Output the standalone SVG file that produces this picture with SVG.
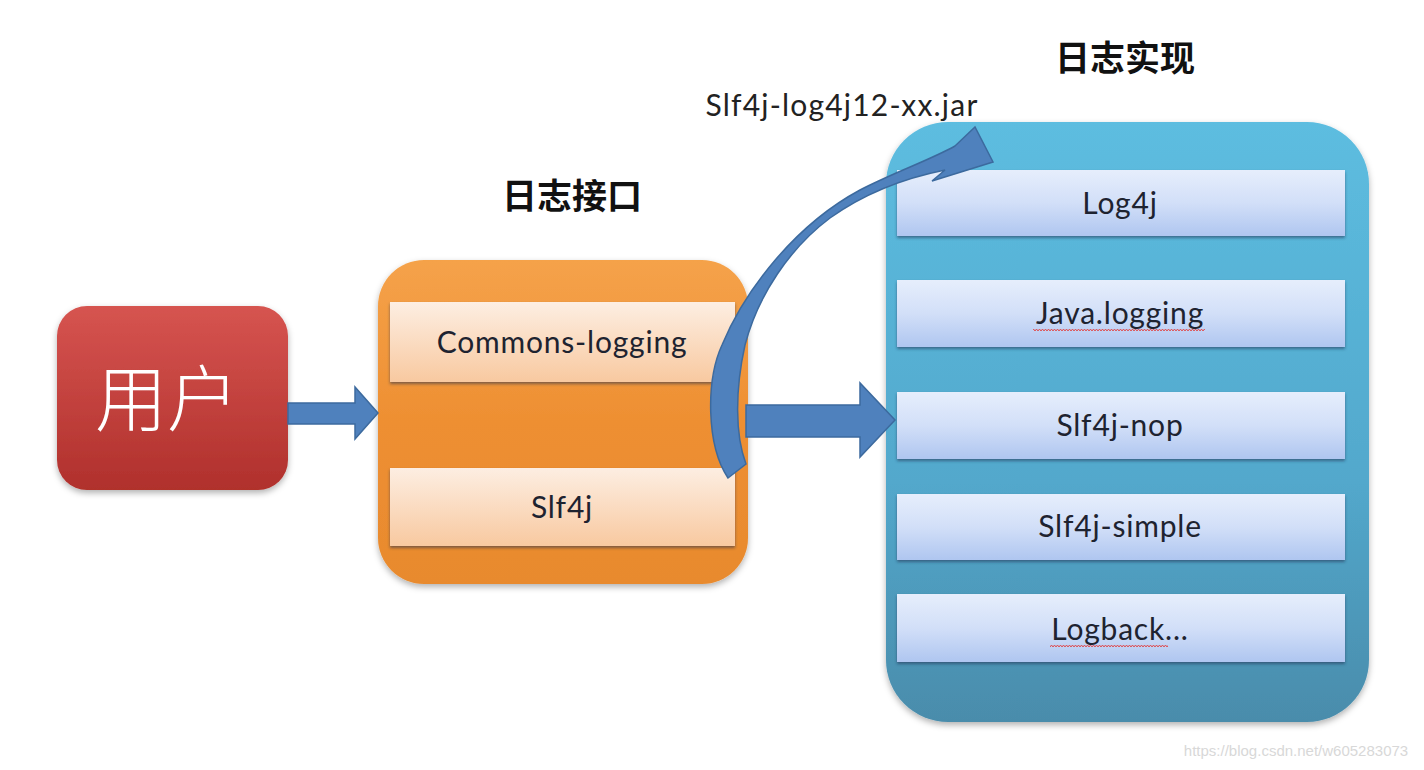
<svg xmlns="http://www.w3.org/2000/svg" width="1424" height="770" viewBox="0 0 1424 770">
<defs>
<linearGradient id="gRed" x1="0" y1="0" x2="0" y2="1"><stop offset="0" stop-color="#d65450"/><stop offset="1" stop-color="#b0302c"/></linearGradient>
<linearGradient id="gOrange" x1="0" y1="0" x2="0" y2="1"><stop offset="0" stop-color="#f5a24a"/><stop offset="0.5" stop-color="#ee8f32"/><stop offset="1" stop-color="#e88a2e"/></linearGradient>
<linearGradient id="gPeach" x1="0" y1="0" x2="0" y2="1"><stop offset="0" stop-color="#fdeee2"/><stop offset="1" stop-color="#f8c9a0"/></linearGradient>
<linearGradient id="gBlue" x1="0" y1="0" x2="0" y2="1"><stop offset="0" stop-color="#5dbde0"/><stop offset="0.6" stop-color="#52a8cc"/><stop offset="1" stop-color="#4a8cab"/></linearGradient>
<linearGradient id="gBar" x1="0" y1="0" x2="0" y2="1"><stop offset="0" stop-color="#e6eefc"/><stop offset="0.5" stop-color="#d2dff8"/><stop offset="1" stop-color="#afc6f0"/></linearGradient>
<filter id="sh" x="-10%" y="-10%" width="120%" height="125%"><feDropShadow dx="0" dy="3" stdDeviation="3" flood-color="#000" flood-opacity="0.3"/></filter>
<filter id="shs" x="-5%" y="-20%" width="110%" height="150%"><feDropShadow dx="0" dy="2" stdDeviation="1.5" flood-color="#1a3050" flood-opacity="0.55"/></filter>
<pattern id="wave" x="0" y="0" width="6" height="4" patternUnits="userSpaceOnUse"><path d="M0 3 L1.5 1 L3 3 L4.5 1 L6 3" fill="none" stroke="#e04040" stroke-width="0.9"/></pattern>
</defs>
<style>
.lbl{font-family:"Lato","Open Sans","Liberation Sans",sans-serif;font-size:30px;letter-spacing:0.8px;fill:#1e2330;text-anchor:middle}
.ttl{font-family:"Noto Sans CJK SC",serif;font-size:35px;font-weight:700;fill:#111;text-anchor:middle}
.arrow{fill:#4f81bd;stroke:#3c6a9e;stroke-width:1.5}
.bar{fill:url(#gBar);filter:url(#shs)}
.pbar{fill:url(#gPeach);filter:url(#shs)}
</style>
<rect width="1424" height="770" fill="#ffffff"/>

<g id="title-interface"><text class="ttl" x="572" y="209">日志接口</text></g>
<g id="title-impl"><text class="ttl" x="1125" y="71">日志实现</text></g>

<g id="user">
<rect x="57" y="306" width="231" height="184" rx="30" fill="url(#gRed)" filter="url(#sh)"/>
<text x="167" y="425" font-family="Noto Sans CJK SC, serif" font-size="72" font-weight="300" fill="#ffffff" text-anchor="middle">用户</text>
</g>

<g id="interface">
<rect x="378" y="260" width="370" height="324" rx="46" fill="url(#gOrange)" filter="url(#sh)"/>
<rect class="pbar" x="390" y="302" width="345" height="80"/>
<text class="lbl" x="562" y="353">Commons-logging</text>
<rect class="pbar" x="390" y="468" width="345" height="78"/>
<text class="lbl" x="562" y="518">Slf4j</text>
</g>

<g id="impl">
<rect x="886" y="122" width="483" height="600" rx="62" fill="url(#gBlue)" filter="url(#sh)"/>
<rect class="bar" x="897" y="170" width="448" height="66"/>
<text class="lbl" x="1120" y="214">Log4j</text>
<rect class="bar" x="897" y="280" width="448" height="67"/>
<text class="lbl" x="1120" y="324">Java.logging</text>
<rect x="1033" y="329" width="172" height="4" fill="url(#wave)"/>
<rect class="bar" x="897" y="392" width="448" height="67"/>
<text class="lbl" x="1120" y="436">Slf4j-nop</text>
<rect class="bar" x="897" y="494" width="448" height="66"/>
<text class="lbl" x="1120" y="537">Slf4j-simple</text>
<rect class="bar" x="897" y="594" width="448" height="68"/>
<text class="lbl" x="1120" y="640">Logback...</text>
<rect x="1050" y="645" width="118" height="4" fill="url(#wave)"/>
</g>

<g id="connectors">
<path class="arrow" d="M288 403 L355 403 L355 387 L378 413 L355 439 L355 424 L288 424 Z"/>
<path class="arrow" d="M746 405 L860 405 L860 383 L895 420 L860 457 L860 437 L746 437 Z"/>
<path class="arrow" d="M728 478 C706 445 706 380 722 345 C745 290 795 225 860 190 C895 172 930 160 955 146 L975 127 L993 162 L932 181 L945 170 C905 178 865 193 830 218 C790 248 758 295 745 345 C735 390 735 435 746 464 Z"/>
<text x="842" y="116" font-family="Lato, Open Sans, Liberation Sans, sans-serif" font-size="30" letter-spacing="1.2" fill="#222" text-anchor="middle">Slf4j-log4j12-xx.jar</text>
</g>

<text x="1296" y="756" font-family="Liberation Sans, Arial, sans-serif" font-size="15" fill="#d8d8d8" text-anchor="middle">https://blog.csdn.net/w605283073</text>
</svg>
